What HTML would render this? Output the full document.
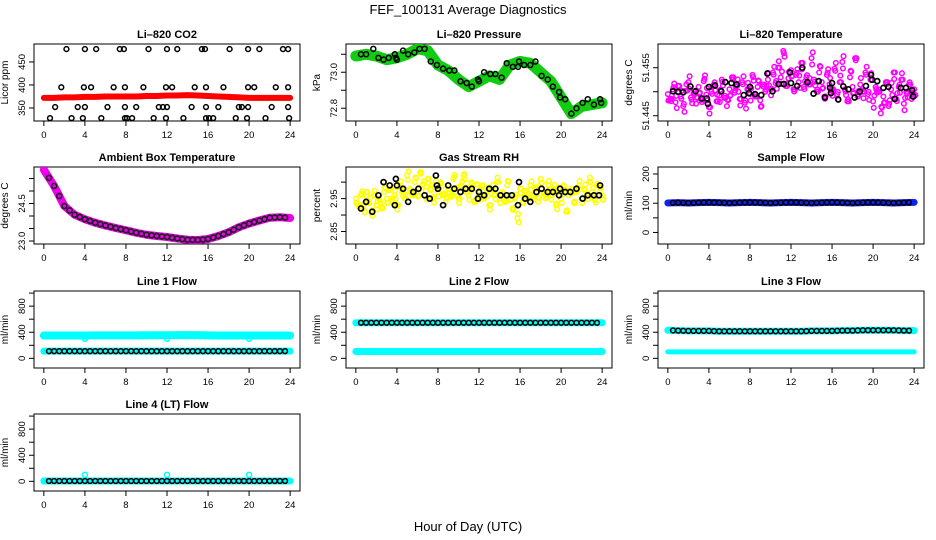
<!DOCTYPE html>
<html><head><meta charset="utf-8"><style>
body{margin:0;background:#fff;}
svg{display:block;font-family:"Liberation Sans",sans-serif;}
</style></head><body>
<svg id="c" width="936" height="540" viewBox="0 0 936 540" xmlns="http://www.w3.org/2000/svg">
<text x="468" y="14" text-anchor="middle" font-size="13">FEF_100131  Average Diagnostics</text>
<text x="468" y="531" text-anchor="middle" font-size="13">Hour of Day (UTC)</text>
</svg>
<script>
// ---- data ----
const hours = [0,1,2,3,4,5,6,7,8,9,10,11,12,13,14,15,16,17,18,19,20,21,22,23,24];
const co2Band = [372,372,373,373,374,374,375,375,375,375,376,376,377,377,378,377,376,375,374,373,372,372,372,372,372];
const co2OutX = [2.2,4,5.1,7.4,7.8,10.2,12,13,15.4,15.7,18.1,19.9,21,23.3,23.8, 1.7,3.9,4.6,6.8,7.9,9.7,11.9,12.5,14.7,15.8,17.5,19.9,20.5,22.6,23.8, 1.1,3.3,4,6.2,7.9,9,11.2,11.6,12,14.4,15.8,17,19,19.3,19.9,22.2,23.8, 0.6,2.7,3.8,5.6,7.9,8.1,8.6,10.7,11.9,13.6,15.8,16.1,16.5,18.7,19.8,21.6,23.9];
const co2OutY = [478,478,478,478,478,478,478,478,478,478,478,478,478,478,478, 395,395,395,395,395,395,395,395,395,395,395,395,395,395,395, 352,352,352,352,352,352,352,352,352,352,352,352,352,352,352,352,352, 328,328,328,328,328,328,328,328,328,328,328,328,328,328,328,328,328];
const presBand = [73.09,73.10,73.09,73.07,73.08,73.10,73.13,73.12,73.04,73.01,72.96,72.92,72.95,72.98,72.96,73.04,73.06,73.05,73.00,72.95,72.86,72.77,72.81,72.82,72.83];
const presPtsX = [0.5,1,1.7,2.2,2.7,3.2,3.8,3.9,4,4.6,5.1,5.7,6.2,6.7,7.3,7.9,8.5,9.1,9.6,10.2,10.8,11.3,11.9,12,12.5,13.1,13.6,14.2,14.7,15.3,15.8,15.9,16.4,17,17.5,18.1,18.7,19.2,19.8,19.9,20.4,21,21.5,22.1,22.6,23.2,23.8,23.9];
const presPtsY = [73.10,73.10,73.13,73.08,73.07,73.08,73.10,73.08,73.07,73.12,73.10,73.11,73.13,73.13,73.06,73.04,73.02,73.01,73.01,72.95,72.94,72.92,72.96,72.95,73.00,72.99,72.99,72.97,73.05,73.03,73.03,73.06,73.04,73.04,73.06,72.98,72.96,72.92,72.89,72.86,72.85,72.77,72.80,72.83,72.85,72.82,72.85,72.83];
const tempMag = [51.4495,51.4485,51.4505,51.4478,51.4512,51.4490,51.4470,51.4502,51.4520,51.4488,51.4496,51.4475,51.4510,51.4483,51.4522,51.4494,51.4468,51.4500,51.4515,51.4480,51.4492,51.4525,51.4487,51.4470,51.4505,51.4530,51.4498,51.4512,51.4485,51.4520,51.4477,51.4505,51.4495,51.4535,51.4490,51.4510,51.4482,51.4515,51.4500,51.4525,51.4506,51.4540,51.4518,51.4550,51.4530,51.4585,51.4512,51.4528,51.4545,51.4505,51.4535,51.4520,51.4560,51.4510,51.4530,51.4515,51.4570,51.4525,51.4500,51.4540,51.4520,51.4490,51.4535,51.4515,51.4505,51.4548,51.4495,51.4520,51.4562,51.4505,51.4480,51.4530,51.4510,51.4570,51.4490,51.4515,51.4500,51.4540,51.4495,51.4525,51.4480,51.4510,51.4500,51.4455,51.4490,51.4520,51.4470,51.4505,51.4540,51.4485,51.4510,51.4525,51.4475,51.4500,51.4515,51.4485,51.4505];
const tempBlkX = [0.5,1,1.5,2.2,2.7,3.3,3.8,3.9,4,4.6,5.2,5.6,6.2,6.7,7.4,7.9,8,8.5,9.1,9.7,10.2,10.8,11.3,11.9,12,12.6,13.1,13.6,14.2,14.7,15.3,15.8,15.9,16,16.6,17.1,17.6,18.2,18.7,19.3,19.8,19.9,20.4,21,21.5,22.1,22.7,23.2,23.8,23.9];
const tempBlkY = [51.4501,51.4500,51.4499,51.4511,51.4501,51.4486,51.4486,51.4475,51.4510,51.4513,51.4501,51.4520,51.4518,51.4515,51.4493,51.4497,51.4510,51.4495,51.4493,51.4538,51.4501,51.4516,51.4516,51.4540,51.4518,51.4512,51.4550,51.4520,51.4496,51.4522,51.4488,51.4508,51.4497,51.4518,51.4484,51.4511,51.4505,51.4488,51.4500,51.4512,51.4535,51.4525,51.4522,51.4508,51.4510,51.4485,51.4508,51.4508,51.4503,51.4490];
const ambBand = [25.85,25.2,24.4,24.05,23.87,23.73,23.62,23.52,23.43,23.33,23.25,23.2,23.16,23.1,23.05,23.04,23.08,23.2,23.35,23.55,23.7,23.82,23.93,23.95,23.92];
const rhYel = [2.95,2.93,2.96,2.92,2.97,2.94,2.91,2.96,2.93,2.95,2.92,2.97,2.95,2.98,2.94,2.96,2.93,2.99,2.97,2.95,3.02,2.98,2.96,3.00,2.97,3.03,2.99,2.96,3.01,2.98,2.95,2.99,2.97,3.00,2.96,2.94,2.98,2.96,3.01,2.97,2.95,2.99,3.02,2.97,2.96,3.00,2.94,2.98,2.96,2.99,2.95,2.97,2.93,2.98,2.96,3.00,2.95,2.97,2.94,2.99,2.96,2.92,2.95,2.89,2.98,2.94,2.97,2.95,2.99,2.96,2.98,2.94,3.01,2.97,2.95,2.99,2.96,2.98,2.93,2.97,2.95,2.99,2.91,2.96,2.98,2.94,2.97,2.99,2.95,2.98,2.96,3.00,2.97,2.95,2.99,2.97,2.96];
const rhBlkX = [0.5,1,1.6,2.2,2.7,3.3,3.8,3.9,4,4.6,5.1,5.6,6.1,6.7,7.2,7.8,7.9,8,8.5,9,9.6,10.2,10.7,11.3,11.9,12,12.5,13,13.6,14.1,14.7,15.2,15.8,15.9,16.5,17,17.6,18.1,18.7,19.2,19.8,19.9,20.4,20.9,21.5,22.1,22.6,23.2,23.7,23.8];
const rhBlkY = [2.92,2.94,2.91,2.96,3.00,2.99,2.93,3.01,2.99,2.98,2.94,2.97,2.98,2.96,2.95,3.02,2.99,2.98,2.93,2.99,2.98,2.97,2.98,2.98,2.95,2.97,2.96,2.98,2.98,2.96,2.96,2.96,2.93,3.00,2.95,2.94,2.97,2.98,2.97,2.97,2.96,2.98,2.97,2.97,2.98,2.95,2.96,2.96,2.96,2.99];
const sampleVal = [101,102,101,102,103,102,101,102,103,102,101,102,103,102,101,102,103,102,101,102,103,102,101,102,103];
const l1Cyan = [350,350,350,350,350,352,352,352,352,352,354,354,354,356,356,356,352,350,350,350,350,350,350,350,350];
const l1Blk = [110,110,110,110,110,110,110,110,110,110,110,110,110,110,110,110,110,110,110,110,110,110,110,110,110];
const l2Blk = [545,545,545,545,545,545,545,545,545,545,545,545,545,545,545,545,545,545,545,545,545,545,545,545,545];
const l2Cyan = [105,105,105,105,105,105,105,105,105,105,105,105,105,105,105,105,105,105,105,105,105,105,105,105,105];
const l3Blk = [430,425,420,420,420,415,415,415,415,415,415,415,415,415,420,420,420,425,425,430,430,430,430,425,425];
const l3Cyan = [100,100,100,100,100,100,100,100,100,100,100,100,100,100,100,100,100,100,100,100,100,100,100,100,100];
const l4Blk = [5,5,5,5,5,5,5,5,5,5,5,5,5,5,5,5,5,5,5,5,5,5,5,5,5];
const flowOutX = [4,12,20];
const l1OutY = [300,300,300];
const l4OutY = [100,100,100];
const xTicks = [0,4,8,12,16,20,24];

// ---- drawing ----
const NS='http://www.w3.org/2000/svg';
const svg=document.getElementById('c');
function mk(tag,attrs,parent){const e=document.createElementNS(NS,tag);for(const k in attrs)e.setAttribute(k,attrs[k]);(parent||svg).appendChild(e);return e;}
const colL=[34,346,658], rowT=[44,167,291,414], W=266, H=77;
function panel(c,r,name,title,ylab,ymin,ymax,ticks,labels){
  const g=mk('g',{});
  
  
  const L=colL[c],T=rowT[r];
  const sx=v=>L+(v+0.96)/25.92*W;
  const sy=v=>T+H-(v-ymin)/(ymax-ymin)*H;
  const t=mk('text',{x:L+W/2,y:T-6,'text-anchor':'middle','font-size':11,'font-weight':'bold'},g);t.textContent=title;
  
  
  const b=mk('rect',{x:L,y:T,width:W,height:H,fill:'none',stroke:'#000','stroke-width':1},g);
  
  
  const yl=mk('text',{x:0,y:0,'text-anchor':'middle','font-size':10,transform:`translate(${L-26},${T+H/2}) rotate(-90)`},g);yl.textContent=ylab;
  
  
  xTicks.forEach(v=>{mk('line',{x1:sx(v),x2:sx(v),y1:T+H,y2:T+H+5,stroke:'#000'},g);
    const tx=mk('text',{x:sx(v),y:T+H+17,'text-anchor':'middle','font-size':9.5},g);tx.textContent=v;
    
    });
  ticks.forEach((v,i)=>{mk('line',{x1:L-5,x2:L,y1:sy(v),y2:sy(v),stroke:'#000'},g);
    if(labels[i]!==''){const ty=mk('text',{x:0,y:0,'text-anchor':'middle','font-size':9.5,transform:`translate(${L-9},${sy(v)}) rotate(-90)`},g);ty.textContent=labels[i];
    
    }});
  const cp=mk('clipPath',{id:'cp'+c+r},g);mk('rect',{x:L,y:T,width:W,height:H},cp);
  const d=mk('g',{'clip-path':`url(#cp${c}${r})`},g);
  return {sx,sy,d};
}
function band(p,xs,ys,col,w,name){
  const pts=xs.map((x,i)=>p.sx(x)+','+p.sy(ys[i])).join(' ');
  const e=mk('polyline',{points:pts,fill:'none',stroke:col,'stroke-width':w,'stroke-linejoin':'round','stroke-linecap':'round'},p.d);
  
  
}
function pts(p,xs,ys,col,name,r,sw){
  xs.forEach((x,i)=>{const e=mk('circle',{cx:p.sx(x),cy:p.sy(ys[i]),r:r||2.5,fill:'none',stroke:col,'stroke-width':sw||1.5},p.d);
    
    });
}
const halfX=[];for(let i=1;i<=47;i++)halfX.push(i*0.5);
function interp(arr,x){const i=Math.min(23,Math.floor(x));return arr[i]+(arr[i+1]-arr[i])*(x-i);}
const qX=tempMag.map((_,i)=>i*0.25);

let p=panel(0,0,'co2-panel','Li\u2013820 CO2','Licor ppm',321.7,489,[350,400,450],['350','400','450']);
band(p,hours,co2Band,'#f00',6,'co2-band');
pts(p,co2OutX,co2OutY,'#000','co2-point',2.4,1.5);

p=panel(1,0,'pressure-panel','Li\u2013820 Pressure','kPa',72.729,73.157,[72.8,72.9,73.0,73.1],['72.8','','73.0','']);
band(p,hours,presBand,'#1c1',11,'pressure-band');
pts(p,presPtsX,presPtsY,'#000','pressure-point',2.5);

p=panel(2,0,'licor-temp-panel','Li\u2013820 Temperature','degrees C',51.4439,51.45994,[51.445,51.45,51.455],['51.445','','51.455']);
pts(p,qX,tempMag,'#f0f','licor-temp-mag',2.3);
pts(p,qX.map(x=>x+0.12),tempMag.map((v,i)=>v+((i%3)-1)*0.0012),'#f0f','licor-temp-mag',2.3);
pts(p,qX.map(x=>x+0.06),tempMag.map((v,i)=>v+((i%4)-1.5)*0.0009),'#f0f','licor-temp-mag',2.3);
pts(p,tempBlkX,tempBlkY,'#000','licor-temp-point',2.5,1.7);

p=panel(0,1,'ambient-temp-panel','Ambient Box Temperature','degrees C',22.88,25.96,[23,23.5,24,24.5,25,25.5],['23.0','','','24.5','','']);
band(p,hours,ambBand,'#e0e',8,'ambient-band');
pts(p,halfX,halfX.map(x=>interp(ambBand,x)),'#222','ambient-point',2.5,1.7);

p=panel(1,1,'rh-panel','Gas Stream RH','percent',2.812,3.046,[2.85,2.9,2.95,3.0],['2.85','','2.95','']);
pts(p,qX,rhYel,'#ff0','rh-yellow',2.3);
pts(p,qX.map(x=>x+0.12),rhYel.map((v,i)=>v+((i%3)-1)*0.012),'#ff0','rh-yellow',2.3);
pts(p,qX.map(x=>x+0.06),rhYel.map((v,i)=>v+((i%4)-1.5)*0.009),'#ff0','rh-yellow',2.3);
pts(p,rhBlkX,rhBlkY,'#000','rh-point',2.5,1.7);

p=panel(2,1,'sample-flow-panel','Sample Flow','ml/min',-39.5,224,[0,50,100,150,200],['0','','100','','200']);
band(p,hours,sampleVal,'#12e',7,'sample-band');
pts(p,halfX,halfX.map(x=>interp(sampleVal,x)),'#000','sample-point',2.4);

const fT=[0,200,400,600,800,1000], fL=['0','','400','','800',''];
p=panel(0,2,'line1-panel','Line 1 Flow','ml/min',-148,1032,fT,fL);
band(p,hours,l1Cyan,'#0ff',8,'line1-cyan');
band(p,hours,l1Blk,'#0ff',7,'line1-cyan-low');
pts(p,flowOutX,l1OutY,'#0ff','line1-outlier');
pts(p,halfX,halfX.map(x=>interp(l1Blk,x)),'#000','line1-point',2.4);

p=panel(1,2,'line2-panel','Line 2 Flow','ml/min',-148,1032,fT,fL);
band(p,hours,l2Blk,'#0ff',7,'line2-cyan-high');
band(p,hours,l2Cyan,'#0ff',7,'line2-cyan');
pts(p,halfX,halfX.map(x=>interp(l2Blk,x)),'#000','line2-point',2.4);

p=panel(2,2,'line3-panel','Line 3 Flow','ml/min',-148,1032,fT,fL);
band(p,hours,l3Blk,'#0ff',7,'line3-cyan-high');
band(p,hours,l3Cyan,'#0ff',5,'line3-cyan');
pts(p,halfX,halfX.map(x=>interp(l3Blk,x)),'#000','line3-point',2.4);

p=panel(0,3,'line4-panel','Line 4 (LT) Flow','ml/min',-148,1032,fT,fL);
band(p,hours,l4Blk,'#0ff',7,'line4-cyan');
pts(p,flowOutX,l4OutY,'#0ff','line4-outlier');
pts(p,halfX,halfX.map(x=>interp(l4Blk,x)),'#000','line4-point',2.4);
</script>
</body></html>
